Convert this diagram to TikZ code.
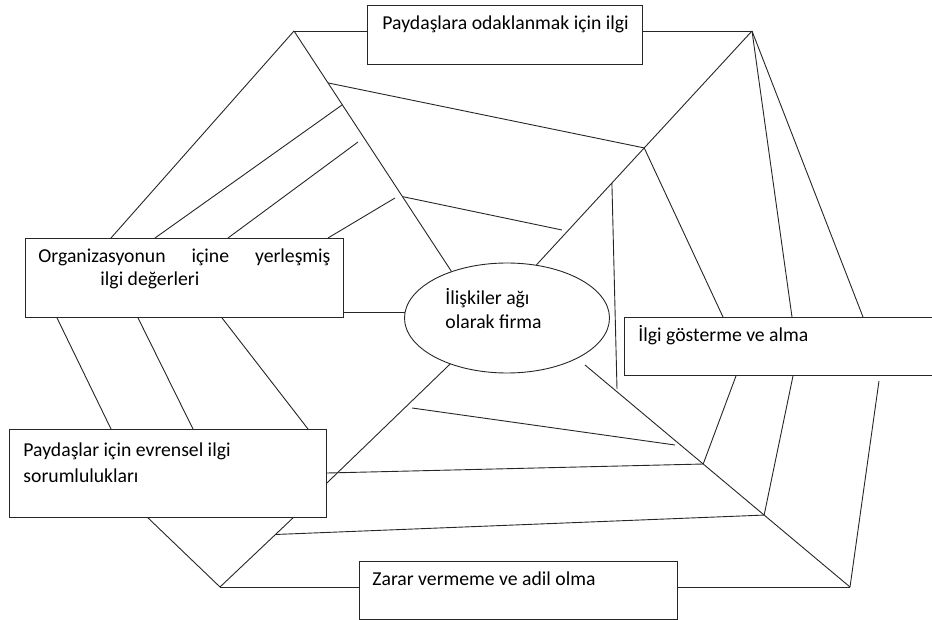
\documentclass[tikz,border=0pt]{standalone}
\usepackage{fontspec}
\setmainfont{Carlito}
\usetikzlibrary{shapes.geometric,calc}

\begin{document}
\begin{tikzpicture}[x=1pt,y=-1pt,
  line width=0.9pt, draw=black!85,
  box/.style={draw, rectangle, inner sep=0pt, anchor=north west},
  lbl/.style={anchor=base west, inner sep=0pt, font=\fontsize{19.7}{23}\selectfont},
  edge/.style={draw=black!85, line width=0.9pt}]
\useasboundingbox (0,0) rectangle (932,620);

% framed statements
\node[box, minimum width=275pt, minimum height=59pt] (top)   at (367,5)   {};
\node[box, minimum width=318pt, minimum height=79pt] (org)   at (25,238)  {};
\node[box, minimum width=320pt, minimum height=58pt] (ilgi)  at (624,317) {};
\node[box, minimum width=317pt, minimum height=88pt] (evr)   at (9,429)   {};
\node[box, minimum width=318pt, minimum height=58pt] (zarar) at (359,561) {};
\node[draw, ellipse, inner sep=0pt, minimum width=205pt, minimum height=110pt] (firma) at (507,318) {};

% texts
\node[lbl] (ttop) at (382,30) {Paydaşlara odaklanmak için ilgi};
\node[lbl] (torg1) at (38,263) {\hbox to 292pt{Organizasyonun\hfill içine\hfill yerleşmiş}};
\node[lbl] (torg2) at (100,286) {ilgi değerleri};
\node[lbl] (tfirma1) at (445,305) {İlişkiler ağı};
\node[lbl] (tfirma2) at (445,329) {olarak firma};
\node[lbl] (tilgi) at (638,342) {İlgi gösterme ve alma};
\node[lbl] (tevr1) at (23,456) {Paydaşlar için evrensel ilgi};
\node[lbl] (tevr2) at (23,482) {sorumlulukları};
\node[lbl] (tzarar) at (372,585) {Zarar vermeme ve adil olma};

% corners of the outer web
\coordinate (A) at (294,31);
\coordinate (B) at (752,31);
\coordinate (C) at (850,587);
\coordinate (D) at (220,587);
\coordinate (E4) at (585,365);

% points on the spokes
\coordinate (P1) at ($(B)!0.5!(firma.61)$);
\coordinate (V1) at ($(B)!0.65!(firma.61)$);
\coordinate (V2) at (617,389);
\coordinate (P2) at ($(A)!0.216!(firma.140)$);
\coordinate (Q1) at ($(A)!0.307!(firma.140)$);
\coordinate (Q2) at (358,142);
\coordinate (Q3) at (395,198);
\coordinate (Q4) at ($(A)!0.689!(firma.140)$);
\coordinate (Q5) at (562,230);
\coordinate (P3) at ($(E4)!0.446!(C)$);
\coordinate (P4) at ($(E4)!0.676!(C)$);
\coordinate (R1) at (412,408);
\coordinate (R2) at (675,445);
\coordinate (eb1) at ($(evr.south west)+(139,0)$);
\coordinate (eb2) at ($(evr.south west)+(284,0)$);
\coordinate (S1) at ($(D)!0.76!(eb2)$);
\coordinate (K) at ($(ilgi.south west)+(255,5)$);

% top side
\draw[edge] (A) -- (top.west |- A);
\draw[edge] (top.east |- B) -- (B);
\draw[edge] (A) -- ($(org.north west)+(86,0)$);
\draw[edge] (A) -- (firma.140);
\draw[edge] (P2) -- (P1);
\draw[edge] (B) -- (firma.61);
\draw[edge] (P1) -- ($(ilgi.north west)+(99,0)$);
\draw[edge] (B) -- ($(ilgi.north west)+(168,0)$);
\draw[edge] (B) -- ($(ilgi.north west)+(239,0)$);

% upper left strands
\draw[edge] (Q1) -- ($(org.north west)+(130,0)$);
\draw[edge] (Q2) -- ($(org.north west)+(203,0)$);
\draw[edge] (Q3) -- ($(org.north west)+(303,0)$);
\draw[edge] (Q4) -- (Q5);
\draw[edge] (V1) -- (V2);
\draw[edge] (firma.177) -- (org.east |- firma.177);

% left side
\draw[edge] ($(org.south west)+(32,0)$) -- ($(evr.north west)+(102,0)$);
\draw[edge] ($(org.south west)+(113,0)$) -- ($(evr.north west)+(184,0)$);
\draw[edge] ($(org.south west)+(197,0)$) -- ($(evr.north west)+(299,0)$);

% lower strands
\draw[edge] (firma.219) -- ($(evr.north east)+(0,54)$);
\draw[edge] (R1) -- (R2);
\draw[edge] ($(evr.north east)+(0,44)$) -- (P3);
\draw[edge] (S1) -- (P4);
\draw[edge] (E4) -- (C);
\draw[edge] (P3) -- ($(ilgi.south west)+(112,0)$);
\draw[edge] (P4) -- ($(ilgi.south west)+(169,0)$);
\draw[edge] (C) -- (K);

% bottom side
\draw[edge] (C) -- (zarar.east |- C);
\draw[edge] (zarar.west |- D) -- (D);
\draw[edge] (D) -- (eb1);
\draw[edge] (D) -- (eb2);
\end{tikzpicture}
\end{document}
